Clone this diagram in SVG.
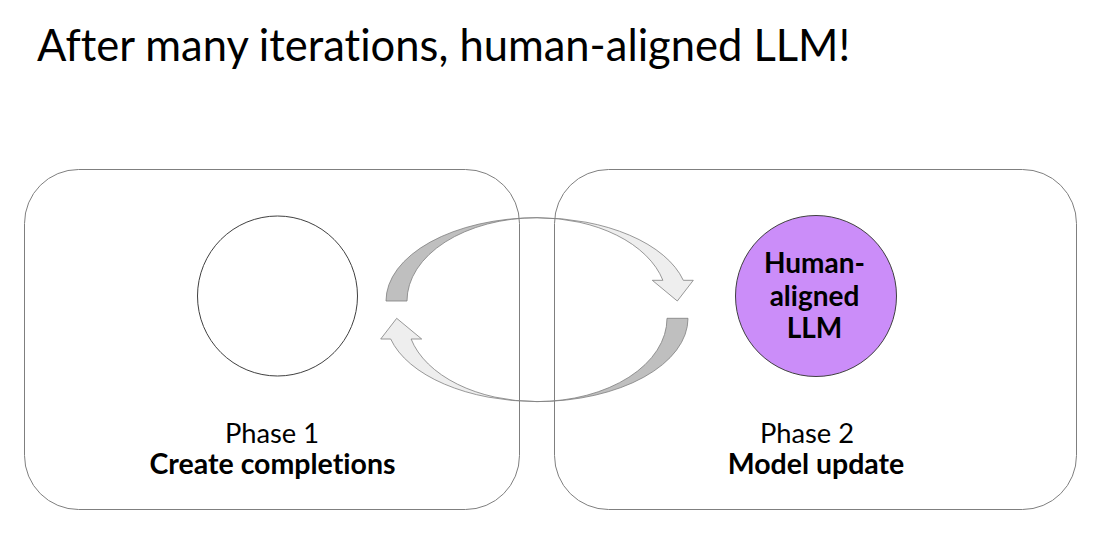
<svg xmlns="http://www.w3.org/2000/svg" width="1099" height="552" viewBox="0 0 1099 552">
<style>
.box{fill:none;stroke:#7f7f7f;stroke-width:1}
.t{font-family:Lato,"Open Sans","Liberation Sans",sans-serif;fill:#000;font-variant-ligatures:none}
.lbl{font-size:27.3px;text-anchor:middle}
.lb{font-size:28.5px;text-anchor:middle;font-weight:bold}
.c{font-size:28px;font-weight:bold;text-anchor:middle}
.dark{fill:#bfbfbf;stroke:#7f7f7f;stroke-width:0.8}
.light{fill:#eeeeee;stroke:#7f7f7f;stroke-width:0.8}
</style>
<rect width="1099" height="552" fill="#fff"/>
<text class="t" x="37" y="61" font-size="43.5">After many iterations, human-aligned LLM!</text>
<g id="phase1">
<rect class="box" x="24.5" y="169.5" width="495" height="340" rx="54" ry="54"/>
<circle cx="277.5" cy="296" r="80" fill="#fff" stroke="#404040" stroke-width="1"/>
<text class="t lbl" x="272" y="443">Phase 1</text>
<text class="t lb" x="272.5" y="474">Create completions</text>
</g>
<g id="phase2">
<rect class="box" x="554.5" y="169.5" width="522" height="340" rx="54" ry="54"/>
<circle cx="816" cy="296" r="80.5" fill="#cb8df9" stroke="#404040" stroke-width="1"/>
<text class="t c" x="814.5" y="272.7">Human-</text>
<text class="t c" x="814.5" y="305.5">aligned</text>
<text class="t c" x="814.5" y="338.3">LLM</text>
<text class="t lbl" x="807" y="443">Phase 2</text>
<text class="t lb" x="816" y="474">Model update</text>
</g>
<g id="connectors">
<path class="dark" d="M386 301 A151 83.3 0 0 1 537 217.7 A130 83.3 0 0 0 407 301 Z"/>
<path class="light" d="M537 217.7 A151 83.3 0 0 1 683.3 280.3 L693.3 280.3 L677.3 301 L652.3 280.3 L662.9 280.3 A130 83.3 0 0 0 537 217.7 Z"/>
<path class="dark" d="M688 318.3 A151 83.3 0 0 1 537 401.6 A130 83.3 0 0 0 667 318.3 Z"/>
<path class="light" d="M537 401.6 A151 83.3 0 0 1 390.7 339 L380.7 339 L396.7 318.3 L421.7 339 L411.1 339 A130 83.3 0 0 0 537 401.6 Z"/>
</g>
</svg>
